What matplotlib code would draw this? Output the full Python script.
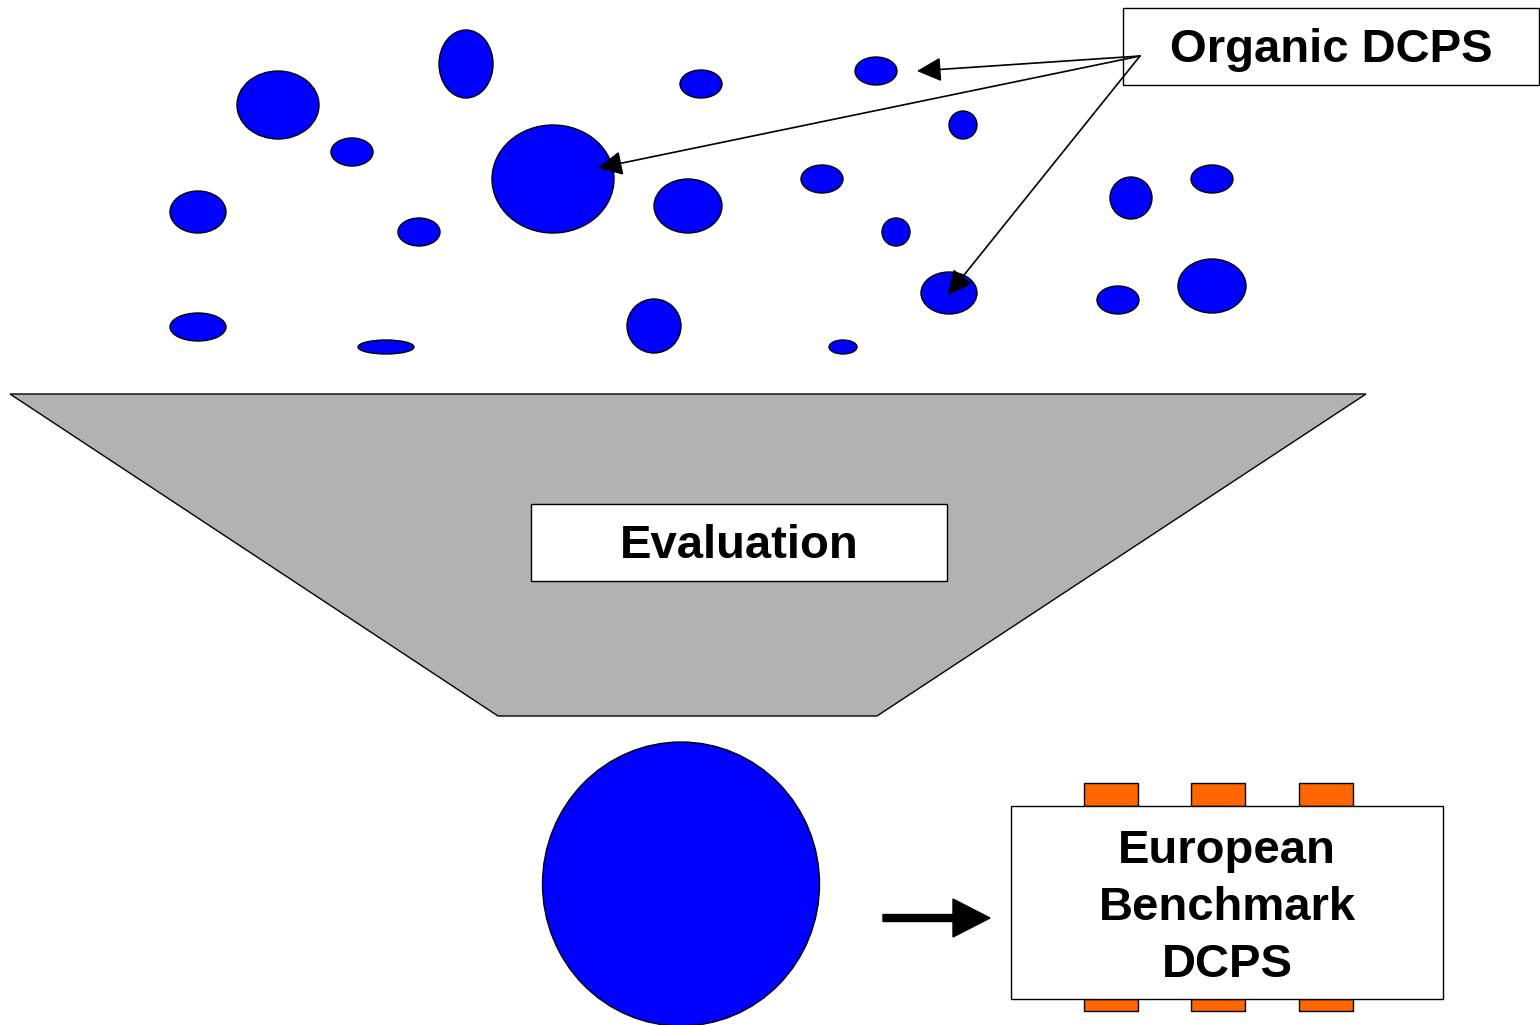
import matplotlib
matplotlib.use("Agg")
import matplotlib.pyplot as plt
import matplotlib.patches as mpatches

plt.rcParams['font.family'] = ['Liberation Sans', 'DejaVu Sans']

# small blobs (centre x, centre y, width, height) in picture pixels
blob_x = [278, 466, 352, 553, 701, 876, 963, 198, 419, 688, 822,
          896, 1131, 1212, 198, 386, 654, 843, 949, 1118, 1212]
blob_y = [105, 64, 152, 179, 84, 71, 125, 212, 232, 206, 179,
          232, 198, 179, 327, 347, 326, 347, 293, 300, 286]
blob_w = [82, 54, 42, 122, 42, 42, 28, 56, 42, 68, 42,
          28, 42, 42, 56, 56, 54, 28, 56, 42, 68]
blob_h = [68, 68, 28, 108, 28, 28, 28, 42, 28, 54, 28,
          28, 42, 28, 28, 14, 54, 14, 42, 28, 54]

# arrows from the label to three of the blobs
arrow_targets = [(917, 71), (598, 168), (948, 295)]
arrow_start = (1140, 56)

funnel = [(10, 394), (1366, 394), (877, 716), (498, 716)]
tab_x = [1084, 1191, 1299]

fig = plt.figure(figsize=(15.4, 10.25), dpi=100)
ax = fig.add_axes([0, 0, 1, 1])
ax.set_xlim(0, 1540)
ax.set_ylim(1025, 0)
ax.axis("off")

for x, y, w, h in zip(blob_x, blob_y, blob_w, blob_h):
    ax.add_patch(mpatches.Ellipse((x, y), w, h, facecolor="#0000ff",
                                  edgecolor="black", lw=1))

ax.add_patch(mpatches.Polygon(funnel, closed=True, facecolor="#b2b2b2",
                              edgecolor="black", lw=1))

# label boxes
ax.add_patch(mpatches.Rectangle((531, 504), 416, 77, facecolor="white",
                                edgecolor="black", lw=1))
ax.text(739, 546, "Evaluation", fontsize=34, fontweight="bold",
        ha="center", va="center")

ax.add_patch(mpatches.Rectangle((1123, 8), 416, 77, facecolor="white",
                                edgecolor="black", lw=1))
ax.text(1331, 50, "Organic DCPS", fontsize=34, fontweight="bold",
        ha="center", va="center")

for tx, ty in arrow_targets:
    ax.annotate("", xy=(tx, ty), xytext=arrow_start,
                arrowprops=dict(arrowstyle="-|>,head_length=0.5,head_width=0.25",
                                color="black", lw=1.2,
                                mutation_scale=30, shrinkA=0, shrinkB=0))

# big result blob
ax.add_patch(mpatches.Ellipse((681, 884), 277, 284, facecolor="#0000ff",
                              edgecolor="black", lw=1))

# thick arrow
ax.add_patch(mpatches.FancyArrow(883, 918, 107, 0, width=7, head_width=38,
                                 head_length=37, length_includes_head=True,
                                 color="black"))

# chip-like benchmark box
for x in tab_x:
    ax.add_patch(mpatches.Rectangle((x, 783), 54, 23, facecolor="#ff6600",
                                    edgecolor="black", lw=1))
    ax.add_patch(mpatches.Rectangle((x, 999), 54, 12, facecolor="#ff6600",
                                    edgecolor="black", lw=1))
ax.add_patch(mpatches.Rectangle((1011, 806), 432, 193, facecolor="white",
                                edgecolor="black", lw=1))
ax.text(1227, 908, "European\nBenchmark\nDCPS", fontsize=34,
        fontweight="bold", ha="center", va="center", linespacing=1.37)

fig.savefig("out.png", dpi=100)
